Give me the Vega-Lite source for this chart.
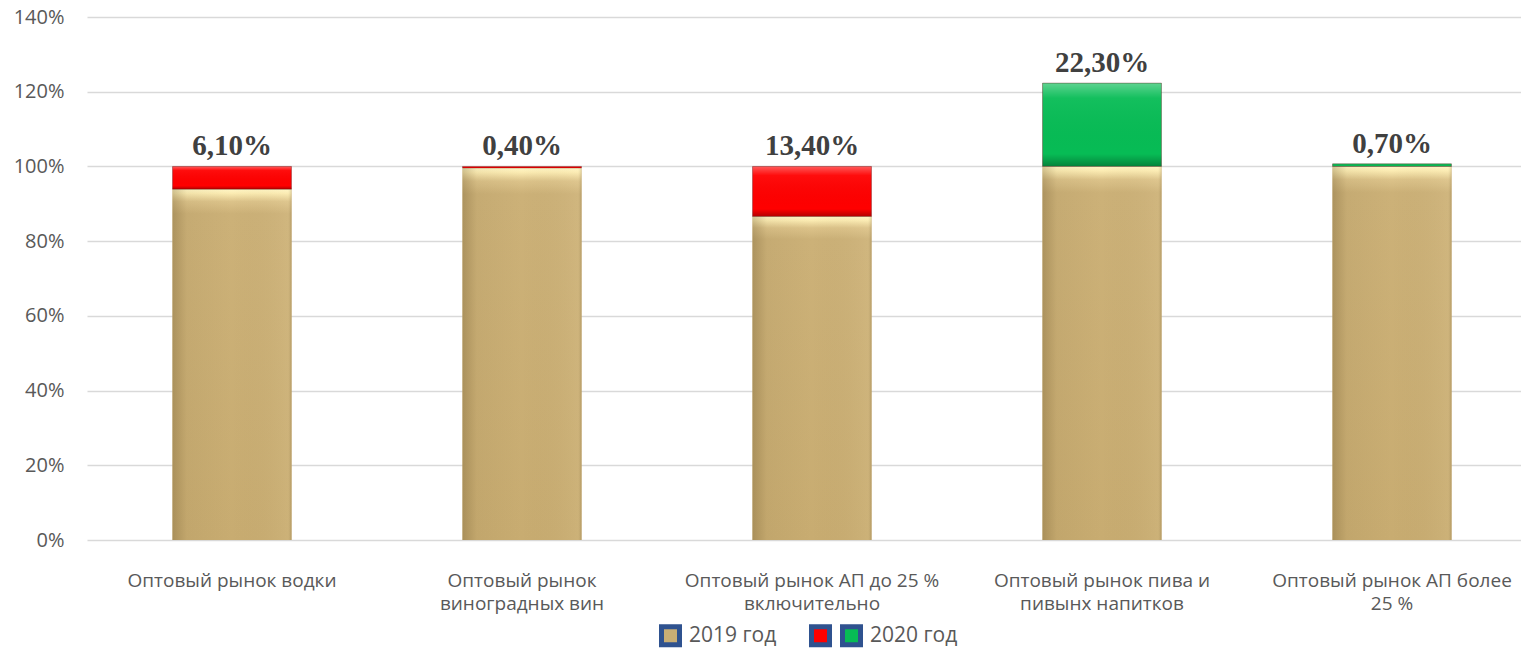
{
  "$schema": "https://vega.github.io/schema/vega-lite/v6.json",
  "width": 1450,
  "height": 523,
  "autosize": {"type": "none"},
  "padding": {"left": 87, "top": 17, "right": 0, "bottom": 108},
  "config": {
    "view": {"stroke": null},
    "font": "Open Sans",
    "locale": {"number": {"decimal": ",", "thousands": " ", "grouping": [3], "currency": ["", " ₽"]}}
  },
  "data": {
    "values": [
      {"cat": "Оптовый рынок водки", "series": "2019 год", "kind": "2019", "value": 0.939},
      {"cat": "Оптовый рынок водки", "series": "2020 год", "kind": "снижение", "value": 0.061},
      {"cat": "Оптовый рынок|виноградных вин", "series": "2019 год", "kind": "2019", "value": 0.996},
      {"cat": "Оптовый рынок|виноградных вин", "series": "2020 год", "kind": "снижение", "value": 0.004},
      {"cat": "Оптовый рынок АП до 25 %|включительно", "series": "2019 год", "kind": "2019", "value": 0.866},
      {"cat": "Оптовый рынок АП до 25 %|включительно", "series": "2020 год", "kind": "снижение", "value": 0.134},
      {"cat": "Оптовый рынок пива и|пивынх напитков", "series": "2019 год", "kind": "2019", "value": 1.0},
      {"cat": "Оптовый рынок пива и|пивынх напитков", "series": "2020 год", "kind": "рост", "value": 0.223},
      {"cat": "Оптовый рынок АП более|25 %", "series": "2019 год", "kind": "2019", "value": 1.0},
      {"cat": "Оптовый рынок АП более|25 %", "series": "2020 год", "kind": "рост", "value": 0.007}
    ]
  },
  "transform": [
    {"stack": "value", "groupby": ["cat"], "sort": [{"field": "series", "order": "ascending"}], "as": ["v0", "v1"]}
  ],
  "encoding": {
    "x": {
      "field": "cat", "type": "nominal", "sort": null,
      "scale": {"paddingInner": 0.59, "paddingOuter": 0.295},
      "axis": {
        "title": null, "labelAngle": 0, "domain": false, "ticks": false,
        "labelPadding": 40, "labelFontSize": 19, "labelColor": "#595959",
        "labelLineHeight": 23, "labelBaseline": "middle", "labelLimit": 400,
        "labelExpr": "split(datum.label, '|')"
      }
    }
  },
  "layer": [
    {
      "mark": {"type": "bar"},
      "encoding": {
        "y": {
          "field": "v1", "type": "quantitative",
          "scale": {"domain": [0, 1.4], "nice": false},
          "axis": {
            "title": null, "format": ".0%", "values": [0, 0.2, 0.4, 0.6, 0.8, 1.0, 1.2, 1.4],
            "domain": false, "ticks": false, "labelPadding": 23,
            "labelFontSize": 20, "labelColor": "#595959",
            "gridColor": "#D9D9D9", "gridWidth": 1.3
          }
        },
        "y2": {"field": "v0"},
        "color": {
          "field": "kind", "type": "nominal",
          "scale": {"domain": ["2019", "снижение", "рост"], "range": ["#C9AE74", "#FF0000", "#07BC55"]},
          "legend": {
            "title": null, "orient": "none", "legendX": 572, "legendY": 607,
            "direction": "horizontal", "symbolType": "square", "symbolSize": 324,
            "symbolStrokeColor": "#2F528F", "symbolStrokeWidth": 5, "symbolOpacity": 1,
            "labelFontSize": 21, "labelColor": "#595959", "labelOffset": 7,
            "columnPadding": -11,
            "labelExpr": "datum.label == 'снижение' ? '' : (datum.label == 'рост' ? '2020 год' : '2019 год\u00a0\u00a0\u00a0\u00a0\u00a0\u00a0\u200b')"
          }
        }
      }
    },
    {
      "transform": [{"filter": "datum.series == '2019 год'"}],
      "mark": {
        "type": "bar",
        "fill": {"gradient": "linear", "x1": 0, "y1": 0, "x2": 0, "y2": 1, "stops": [
          {"offset": 0, "color": "#FFF6C6"},
          {"offset": 0.012, "color": "#FBEBB2"},
          {"offset": 0.035, "color": "#DCC38A"},
          {"offset": 0.07, "color": "#CCB178"},
          {"offset": 1, "color": "#C8AC71"}
        ]}
      },
      "encoding": {"y": {"field": "v1", "type": "quantitative"}, "y2": {"field": "v0"}}
    },
    {
      "transform": [{"filter": "datum.series == '2019 год'"}],
      "mark": {
        "type": "bar",
        "fill": {"gradient": "linear", "x1": 0, "y1": 0, "x2": 1, "y2": 0, "stops": [
          {"offset": 0, "color": "rgba(90,70,30,0.28)"},
          {"offset": 0.12, "color": "rgba(90,70,30,0.06)"},
          {"offset": 0.5, "color": "rgba(90,70,30,0)"},
          {"offset": 0.97, "color": "rgba(255,240,200,0.08)"},
          {"offset": 1, "color": "rgba(90,70,30,0.2)"}
        ]}
      },
      "encoding": {"y": {"field": "v1", "type": "quantitative"}, "y2": {"field": "v0"}}
    },
    {
      "transform": [{"filter": "datum.series == '2020 год'"}],
      "mark": {
        "type": "bar",
        "stroke": "rgba(80,0,0,0.35)", "strokeWidth": 1,
        "fill": {"gradient": "linear", "x1": 0, "y1": 0, "x2": 0, "y2": 1, "stops": [
          {"offset": 0, "color": "rgba(255,255,255,0.35)"},
          {"offset": 0.18, "color": "rgba(255,255,255,0.05)"},
          {"offset": 0.85, "color": "rgba(0,0,0,0)"},
          {"offset": 1, "color": "rgba(0,0,0,0.3)"}
        ]}
      },
      "encoding": {"y": {"field": "v1", "type": "quantitative"}, "y2": {"field": "v0"}}
    },
    {
      "transform": [{"filter": "datum.series == '2020 год'"}],
      "mark": {"type": "text", "font": "Liberation Serif", "fontWeight": "bold", "fontSize": 29, "color": "#404040", "baseline": "alphabetic", "dy": -11},
      "encoding": {
        "y": {"field": "v1", "type": "quantitative"},
        "text": {"field": "value", "type": "quantitative", "format": ".2%"}
      }
    }
  ]
}
